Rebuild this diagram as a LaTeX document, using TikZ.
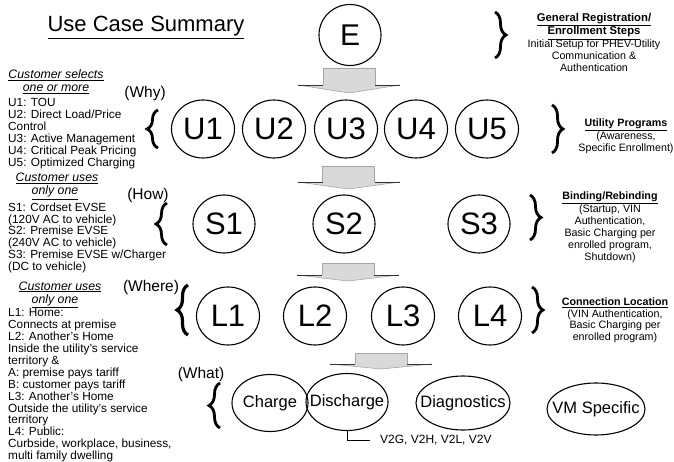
\documentclass[tikz,border=0pt]{standalone}
\usepackage{fontspec}
\setmainfont{Liberation Sans}
\usetikzlibrary{shapes.geometric,decorations.pathreplacing}
\newcommand\blkarrow[4]{%
 \fill[gray!30] (#1-26,#2) -- (#1+26,#2) -- (#1+26,#3) -- (#1+51,#3) -- (#1,#4) -- (#1-51,#3) -- (#1-26,#3) -- cycle;
 \draw[gray!70, line width=0.6pt] (#1-26,#3) -- (#1-26,#2) -- (#1+26,#2) -- (#1+26,#3);
 \draw[gray!70, line width=0.6pt] (#1-51,#3) -- (#1,#4) -- (#1+51,#3);
 \draw[black!80, line width=0.9pt] (#1-51,#3) -- (#1-26,#3) (#1+26,#3) -- (#1+51,#3);
}
\newcommand\zw[1]{\makebox[0pt]{#1}}
\tikzset{
 oval/.style={draw, ellipse, line width=1.1pt, inner sep=0pt},
 big/.style={oval, font=\fontsize{31}{31}\selectfont, minimum width=63pt, minimum height=58pt},
 what/.style={oval, font=\fontsize{16.5}{16.5}\selectfont},
 brc/.style={decorate, decoration={brace, amplitude=11pt}, line width=2.8pt},
 lefttxt/.style={anchor=north west, inner sep=0pt, align=left, font=\fontsize{11.8}{11.9}\selectfont},
 hdr/.style={anchor=base, inner sep=0pt, font=\fontsize{12.3}{12.3}\selectfont\itshape},
 ask/.style={font=\fontsize{15.5}{15.5}\selectfont, inner sep=0pt},
 righttxt/.style={anchor=north, inner sep=0pt, align=center, font=\fontsize{10.7}{12.3}\selectfont},
}
\begin{document}
\begin{tikzpicture}[x=1pt,y=-1pt]
\useasboundingbox (0,0) rectangle (674,462);
% title
\node[anchor=base, inner sep=0pt, font=\fontsize{22}{22}\selectfont] (title) at (146,32) {\underline{Use Case Summary}};
% E
\node[big, minimum width=62pt, minimum height=61pt, font=\fontsize{30}{30}\selectfont] (E) at (350,35) {\zw{E}};
\blkarrow{349}{68}{85}{93}
% U row
\node[big] (U1) at (203,129) {\zw{U1}};
\node[big] (U2) at (274,129) {\zw{U2}};
\node[big] (U3) at (346,129) {\zw{U3}};
\node[big] (U4) at (416,129) {\zw{U4}};
\node[big] (U5) at (487,129) {\zw{U5}};
\blkarrow{348.5}{166}{182}{189}
% S row
\node[big, minimum width=62pt] (S1) at (224,224) {\zw{S1}};
\node[big, minimum width=62pt] (S2) at (344,224) {\zw{S2}};
\node[big, minimum width=62pt] (S3) at (479,224) {\zw{S3}};
\blkarrow{348}{263}{275}{281}
% L row
\node[big] (L1) at (228,316) {\zw{L1}};
\node[big] (L2) at (315,316) {\zw{L2}};
\node[big] (L3) at (403,316) {\zw{L3}};
\node[big] (L4) at (490,316) {\zw{L4}};
\blkarrow{381}{353}{364}{369}
% What row
\node[what, minimum width=76pt, minimum height=57pt] (chg) at (270,403) {\zw{Charge}};
\node[what, minimum width=82pt, minimum height=57pt] (dis) at (347,402) {\zw{Discharge}};
\node[what, minimum width=94pt, minimum height=54pt] (diag) at (463,403) {\zw{Diagnostics}};
\node[what, minimum width=98pt, minimum height=52pt] (vm) at (596,409) {\zw{VM Specific}};
\node[anchor=west, inner sep=0pt, font=\fontsize{12}{12}\selectfont] (vt) at (380,440) {V2G, V2H, V2L, V2V};
\draw[line width=1pt] (dis.south) |- ([xshift=-10pt]vt.west);
% left braces
\draw[brc] (158,148) -- (158,110);
\draw[brc] (167,245) -- (167,203);
\draw[brc, line width=3.2pt] (188,335) -- (188,285);
\draw[brc] (220,428) -- (220,383);
% right braces
\draw[brc] (495,12) -- (495,58);
\draw[brc] (552,105) -- (552,153);
\draw[brc] (530,195) -- (530,240);
\draw[brc] (532,287) -- (532,333);
% question labels
\node[ask] (why) at (145,93) {(Why)};
\node[ask] (how) at (148,195) {(How)};
\node[ask] (where) at (151,287) {(Where)};
\node[ask] (whatq) at (201,374) {(What)};
% left headers
\node[hdr] (h1a) at (56,79) {\underline{Customer selects}};
\node[hdr] (h1b) at (56,92) {\underline{one or more}};
\node[hdr] (h2a) at (57,182) {\underline{Customer uses}};
\node[hdr] (h2b) at (55,195) {\underline{only one}};
\node[hdr] (h3a) at (60,290) {\underline{Customer uses}};
\node[hdr] (h3b) at (55,303) {\underline{only one}};
% left texts
\node[lefttxt] (tu) at (8,98.5) {U1: TOU\\U2: Direct Load/Price\\Control\\U3: Active Management\\U4: Critical Peak Pricing\\U5: Optimized Charging};
\node[lefttxt] (ts) at (8,202.4) {S1: Cordset EVSE\\(120V AC to vehicle)\\S2: Premise EVSE\\(240V AC to vehicle)\\S3: Premise EVSE w/Charger\\(DC to vehicle)};
\node[lefttxt] (tl) at (8,308.5) {L1: Home:\\Connects at premise\\L2: Another's Home\\Inside the utility's service\\territory \&\\A: premise pays tariff\\B: customer pays tariff\\L3: Another's Home\\Outside the utility's service\\territory\\L4: Public:\\Curbside, workplace, business,\\multi family dwelling};
% right texts
\node[righttxt] (re) at (594,13) {{\fontsize{11.3}{12.5}\selectfont\bfseries\underline{General Registration/}}\\{\fontsize{11.3}{12.5}\selectfont\bfseries\underline{Enrollment Steps}}\\Initial Setup for PHEV-Utility\\Communication \&\\Authentication};
\node[righttxt] (ru) at (626,119) {{\bfseries\underline{Utility Programs}}\\(Awareness,\\Specific Enrollment)};
\node[righttxt, font=\fontsize{10.7}{12}\selectfont] (rs) at (610,192) {{\bfseries\underline{Binding/Rebinding}}\\(Startup, VIN\\Authentication,\\Basic Charging per\\enrolled program,\\Shutdown)};
\node[righttxt, font=\fontsize{10.7}{11.5}\selectfont] (rl) at (615,298) {{\bfseries\underline{Connection Location}}\\(VIN Authentication,\\Basic Charging per\\enrolled program)};
\end{tikzpicture}
\end{document}
